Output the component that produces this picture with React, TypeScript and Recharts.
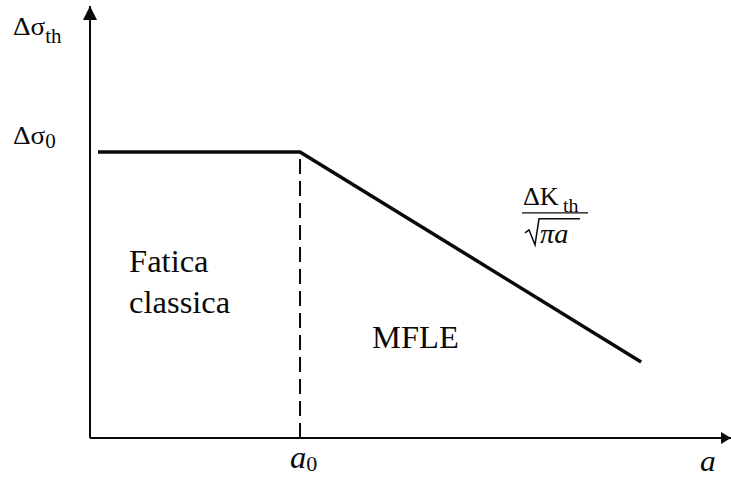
import React from "react";
import {
  ComposedChart,
  Line,
  XAxis,
  YAxis,
  ReferenceLine,
  ReferenceDot,
} from "recharts";

// Crack length a (in units of a0) and threshold stress range (in units of Δσ0)
const crackLength = [0.038, 1, 2.624];
const thresholdStress = [1, 1, 0.266];

// Axis ticks: a0 / axis end on x, Δσ0 / axis end on y
const xTicks = [1, 3.052];
const yTicks = [1, 1.51];

const X_MAX = 3.052;
const Y_MAX = 1.51;

const lineData = crackLength.map((a, i) => ({ a, s: thresholdStress[i] }));

const SERIF = "'Liberation Serif', 'Times New Roman', Times, serif";
const INK = "#0a0a0a";
const SX = 1.05;

const Stretch = ({ x, y, children }: { x: number; y: number; children: React.ReactNode }) => (
  <g transform={`translate(${x} ${y}) scale(${SX} 1)`}>{children}</g>
);

const YTick = (props: any) => {
  const { x, y, payload } = props;
  if (payload.value === 1) {
    return (
      <Stretch x={x - 77} y={y - 8}>
        <text x={0} y={0} fontFamily={SERIF} fontSize={26} fill={INK}>
          Δσ
          <tspan dy={4} fontSize={20}>0</tspan>
        </text>
      </Stretch>
    );
  }
  return (
    <Stretch x={x - 77} y={y + 29}>
      <text x={0} y={0} fontFamily={SERIF} fontSize={26} fill={INK}>
        Δσ
        <tspan dy={8} fontSize={20}>th</tspan>
      </text>
    </Stretch>
  );
};

const XTick = (props: any) => {
  const { x, y, payload } = props;
  if (payload.value === 1) {
    return (
      <Stretch x={x - 10} y={y + 30}>
        <text x={0} y={0} fontFamily={SERIF} fontSize={31} fill={INK}>
          <tspan fontStyle="italic">a</tspan>
          <tspan dy={3} fontSize={21}>0</tspan>
        </text>
      </Stretch>
    );
  }
  return (
    <Stretch x={x - 31} y={y + 33}>
      <text x={0} y={0} fontFamily={SERIF} fontSize={30} fontStyle="italic" fill={INK}>
        a
      </text>
    </Stretch>
  );
};

const ArrowRight = (props: any) => {
  const { cx, cy } = props;
  return <path d={`M${cx},${cy} L${cx - 10},${cy - 6} L${cx - 10},${cy + 6} Z`} fill={INK} />;
};

const ArrowUp = (props: any) => {
  const { cx, cy } = props;
  return <path d={`M${cx},${cy} L${cx - 7},${cy + 14} L${cx + 7},${cy + 14} Z`} fill={INK} />;
};

const RegionText = (lines: string[]) => (props: any) => {
  const { cx, cy } = props;
  return (
    <Stretch x={cx} y={cy}>
      <text x={0} y={0} fontFamily={SERIF} fontSize={31} fill={INK}>
        {lines.map((t, i) => (
          <tspan key={t} x={0} dy={i === 0 ? 0 : 41}>
            {t}
          </tspan>
        ))}
      </text>
    </Stretch>
  );
};

// ΔK_th / √(πa) written as a stacked fraction centred on the bar
const FractionLabel = (props: any) => {
  const { cx, cy } = props;
  return (
    <g>
      <Stretch x={cx - 32} y={cy - 8}>
        <text x={0} y={0} fontFamily={SERIF} fontSize={25} fill={INK}>
          ΔK
          <tspan dx={4} dy={7} fontSize={19}>th</tspan>
        </text>
      </Stretch>
      <line x1={cx - 33} x2={cx + 33} y1={cy} y2={cy} stroke={INK} strokeWidth={1.3} />
      <path
        d={`M${cx - 30},${cy + 20} L${cx - 26},${cy + 17} L${cx - 20},${cy + 32} L${cx - 16},${cy + 6} L${cx + 25},${cy + 6}`}
        fill="none"
        stroke={INK}
        strokeWidth={1.5}
      />
      <Stretch x={cx - 15} y={cy + 30}>
        <text x={0} y={0} fontFamily={SERIF} fontSize={27} fontStyle="italic" fill={INK}>
          πa
        </text>
      </Stretch>
    </g>
  );
};

export default function App() {
  return (
    <div style={{ position: "fixed", left: 0, top: 0, background: "#fff" }}>
      <ComposedChart
        width={731}
        height={479}
        data={lineData}
        margin={{ top: 6, right: 0, bottom: 0, left: 0 }}
      >
        <XAxis
          type="number"
          dataKey="a"
          domain={[0, X_MAX]}
          ticks={xTicks}
          interval={0}
          tick={XTick}
          tickLine={false}
          tickSize={0}
          tickMargin={0}
          height={41}
          axisLine={{ stroke: INK, strokeWidth: 2 }}
          allowDataOverflow
        />
        <YAxis
          type="number"
          domain={[0, Y_MAX]}
          ticks={yTicks}
          interval={0}
          tick={YTick}
          tickLine={false}
          tickSize={0}
          tickMargin={0}
          width={90}
          axisLine={{ stroke: INK, strokeWidth: 2 }}
          allowDataOverflow
        />
        <ReferenceLine
          segment={[
            { x: 1, y: 0 },
            { x: 1, y: 1 },
          ]}
          stroke={INK}
          strokeWidth={2}
          strokeDasharray="15 7"
        />
        <Line
          type="linear"
          dataKey="s"
          stroke={INK}
          strokeWidth={3.5}
          dot={false}
          activeDot={false}
          isAnimationActive={false}
        />
        <ReferenceDot x={X_MAX} y={0} r={0} ifOverflow="visible" shape={ArrowRight} />
        <ReferenceDot x={0} y={Y_MAX} r={0} ifOverflow="visible" shape={ArrowUp} />
        <ReferenceDot x={0.186} y={0.58} r={0} shape={RegionText(["Fatica", "classica"])} />
        <ReferenceDot x={1.343} y={0.315} r={0} shape={RegionText(["MFLE"])} />
        <ReferenceDot x={2.214} y={0.787} r={0} shape={FractionLabel} />
      </ComposedChart>
    </div>
  );
}
